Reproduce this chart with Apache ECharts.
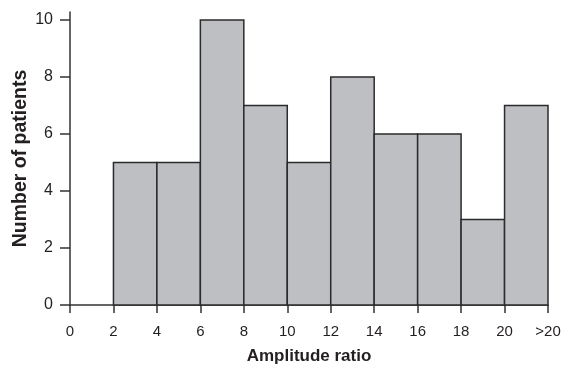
<!DOCTYPE html>
<html style="height: 100%">

<head>
    <meta charset="utf-8">
</head>

<body style="height: 100%; margin: 0">
    <div id="container" style="width: 576px; height: 365px"></div>
    <script src="https://cdn.jsdelivr.net/npm/echarts@6/dist/echarts.min.js"></script>
    <script type="text/javascript">
        // histogram bins: [start, end] of amplitude ratio, last bin is ">20"
        var binStart = [2, 4, 6, 8, 10, 12, 14, 16, 18, 20];
        var binEnd = [4, 6, 8, 10, 12, 14, 16, 18, 20, 22];
        var patients = [5, 5, 10, 7, 5, 8, 6, 6, 3, 7];
        var yTicks = [0, 2, 4, 6, 8, 10];

        var dom = document.getElementById("container");
        var myChart = echarts.init(dom);

        var data = binStart.map(function(s, i) {
            return [s, binEnd[i], patients[i]];
        });

        var font = '"Liberation Sans", Arial, sans-serif';
        var ink = '#231f20';

        var option = {
            animation: false,
            grid: {
                left: 70,
                right: 28,
                top: 12,
                bottom: 60,
                outerBoundsMode: 'none',
                containLabel: false
            },
            xAxis: {
                type: 'value',
                min: 0,
                max: 22,
                interval: 2,
                name: 'Amplitude ratio',
                nameLocation: 'middle',
                nameGap: 43,
                nameMoveOverlap: false,
                nameTextStyle: {
                    fontFamily: font,
                    fontWeight: 'bold',
                    fontSize: 17,
                    color: ink
                },
                splitLine: { show: false },
                axisLine: { lineStyle: { color: '#333', width: 1.5 } },
                axisTick: {
                    length: 8,
                    lineStyle: { color: '#333', width: 1.5 }
                },
                axisLabel: {
                    margin: 19,
                    fontFamily: font,
                    fontSize: 15,
                    color: ink,
                    formatter: function(v) {
                        return v === 22 ? '>20' : String(v);
                    }
                }
            },
            yAxis: {
                type: 'value',
                min: 0,
                max: 10.28,
                name: 'Number of patients',
                nameLocation: 'middle',
                nameGap: 39,
                nameMoveOverlap: false,
                nameTextStyle: {
                    fontFamily: font,
                    fontWeight: 'bold',
                    fontSize: 19.5,
                    color: ink
                },
                splitLine: { show: false },
                axisLine: { show: true, lineStyle: { color: '#333', width: 1.5 } },
                axisTick: {
                    show: true,
                    length: 10,
                    customValues: yTicks,
                    lineStyle: { color: '#333', width: 1.5 }
                },
                axisLabel: {
                    margin: 17,
                    fontFamily: font,
                    fontSize: 16,
                    color: ink,
                    customValues: yTicks
                }
            },
            series: [{
                type: 'custom',
                data: data,
                encode: { x: [0, 1], y: 2 },
                renderItem: function(params, api) {
                    var p0 = api.coord([api.value(0), 0]);
                    var p1 = api.coord([api.value(1), api.value(2)]);
                    return {
                        type: 'rect',
                        shape: {
                            x: p0[0],
                            y: p1[1],
                            width: p1[0] - p0[0],
                            height: p0[1] - p1[1]
                        },
                        style: {
                            fill: '#bebfc3',
                            stroke: '#2b2b2b',
                            lineWidth: 1.5
                        }
                    };
                }
            }]
        };

        myChart.setOption(option);
    </script>
</body>

</html>
